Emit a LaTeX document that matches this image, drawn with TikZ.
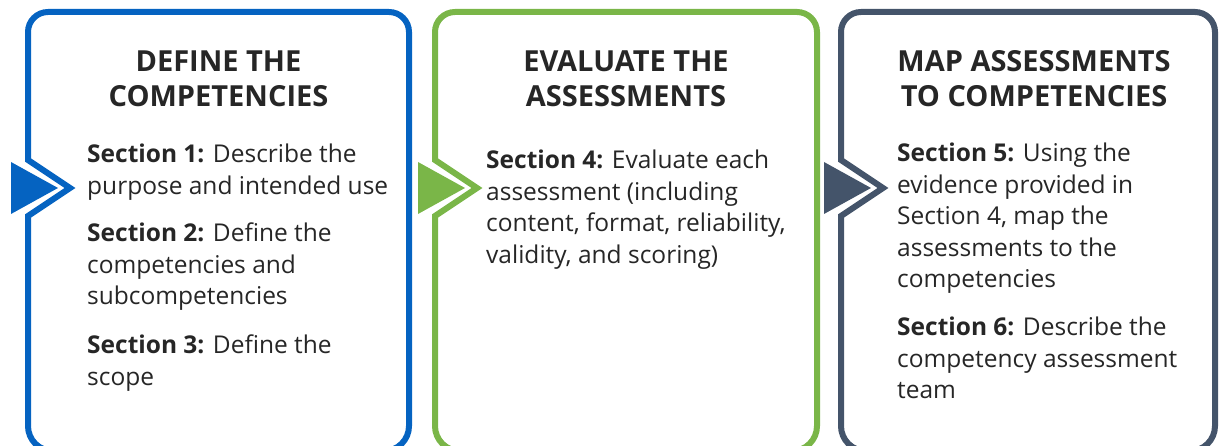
\documentclass[tikz,border=0pt]{standalone}
\usepackage{fontspec}
\setmainfont{Open Sans}
\usepackage{tikz}
\definecolor{defBlue}{HTML}{0563C1}
\definecolor{evalGreen}{HTML}{7AB648}
\definecolor{mapGray}{HTML}{44546A}
\definecolor{textGray}{HTML}{262626}
\tikzstyle{panel} = [line width=6pt, line join=miter]
\tikzstyle{title} = [anchor=base, align=center, inner sep=0pt, text=textGray, font=\bfseries\fontsize{29}{35}\selectfont]
\tikzstyle{body} = [anchor=base west, align=left, inner sep=0pt, text=textGray, font=\fontsize{24.5}{31.5}\selectfont]
% #1 left edge, #2 right edge, #3 colour
\newcommand{\panelbox}[3]{%
  \draw[panel,#3] (#1,286) -- (#1,414) arc[start angle=180,end angle=90,radius=20pt]
    -- (#2-20,434) arc[start angle=90,end angle=0,radius=20pt]
    -- (#2,20) arc[start angle=0,end angle=-90,radius=25pt]
    -- (#1+25,-5) arc[start angle=-90,end angle=-180,radius=25pt]
    -- (#1,230) -- (#1+42,258) -- cycle;
  \fill[#3] (#1-17,284) -- (#1+30,258) -- (#1-17,232) -- cycle;}

\begin{document}
\begin{tikzpicture}[x=1pt,y=1pt]
		\useasboundingbox (0,0) rectangle (1219,446);
		\panelbox{28}{409}{defBlue}
		\panelbox{435}{817}{evalGreen}
		\panelbox{841}{1215}{mapGray}
		%titles (anchored on the last line)
		\node[title](defineTitle) at (218.5,339){DEFINE THE\\COMPETENCIES};
		\node[title](evaluateTitle) at (626,339){EVALUATE THE\\ASSESSMENTS};
		\node[title](mapTitle) at (1034,339){MAP ASSESSMENTS\\TO COMPETENCIES};
		%sections (anchored on the last line)
		\node[body](sec1) at (87,251.5){\textbf{Section 1:} Describe the\\purpose and intended use};
		\node[body](sec2) at (87,141){\textbf{Section 2:} Define the\\competencies and\\subcompetencies};
		\node[body](sec3) at (87,60.5){\textbf{Section 3:} Define the\\scope};
		\node[body](sec4) at (486,182.5){\textbf{Section 4:} Evaluate each\\assessment (including\\content, format, reliability,\\validity, and scoring)};
		\node[body](sec5) at (897,158){\textbf{Section 5:} Using the\\evidence provided in\\Section 4, map the\\assessments to the\\competencies};
		\node[body](sec6) at (897,47){\textbf{Section 6:} Describe the\\competency assessment\\team};
\end{tikzpicture}
\end{document}
